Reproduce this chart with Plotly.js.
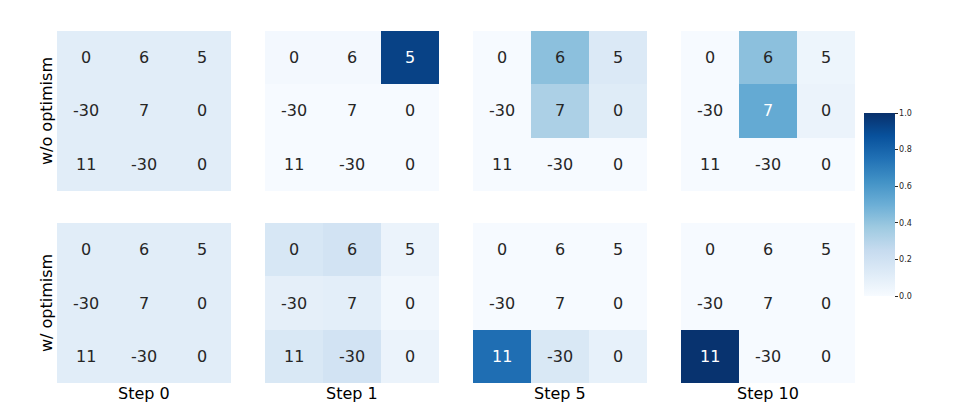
<!DOCTYPE html>
<html>
<head>
<meta charset="utf-8">
<script src="https://cdn.plot.ly/plotly-3.0.1.min.js"></script>
<style>
  html, body { margin: 0; padding: 0; background: #fff; }
  #chart { width: 957px; height: 410px; }
</style>
</head>
<body>
<div id="chart"></div>
<script>
// payoff matrix shown in every cell
const payoffs = [
    ["0", "6", "5"],
    ["-30", "7", "0"],
    ["11", "-30", "0"]
]
const stepLabels = ["Step 0", "Step 1", "Step 5", "Step 10"]
const rowLabels = ["w/o optimism", "w/ optimism"]

// joint action probabilities
const noOptStep0 = [[0.11, 0.11, 0.11], [0.11, 0.11, 0.11], [0.11, 0.11, 0.11]]
const noOptStep1 = [[0.02, 0.02, 0.93], [0.005, 0.005, 0.005], [0.005, 0.005, 0.005]]
const noOptStep5 = [[0.005, 0.42, 0.14], [0.005, 0.33, 0.12], [0.005, 0.005, 0.005]]
const noOptStep10 = [[0.005, 0.42, 0.05], [0.005, 0.52, 0.06], [0.005, 0.005, 0.005]]

const optStep0 = [[0.11, 0.11, 0.11], [0.11, 0.11, 0.11], [0.11, 0.11, 0.11]]
const optStep1 = [[0.16, 0.19, 0.06], [0.09, 0.1, 0.03], [0.15, 0.19, 0.06]]
const optStep5 = [[0.005, 0.005, 0.005], [0.005, 0.005, 0.005], [0.76, 0.15, 0.08]]
const optStep10 = [[0.005, 0.005, 0.005], [0.005, 0.005, 0.005], [0.99, 0.005, 0.005]]

const grid = [
    [noOptStep0, noOptStep1, noOptStep5, noOptStep10],
    [optStep0, optStep1, optStep5, optStep10]
]

// matplotlib "Blues"
const blues = [
    [0, "#f7fbff"], [0.125, "#deebf7"], [0.25, "#c6dbef"], [0.375, "#9ecae1"],
    [0.5, "#6baed6"], [0.625, "#4292c6"], [0.75, "#2171b5"], [0.875, "#08519c"], [1, "#08306b"]
]

const W = 957, H = 410
const colX = [[57, 231], [265, 439], [473, 647], [681, 855]]
const rowY = [[31, 191], [223, 383]]

const data = []
const layout = {
    width: W,
    height: H,
    margin: { l: 0, r: 0, t: 0, b: 0 },
    paper_bgcolor: "#fff",
    plot_bgcolor: "#fff",
    showlegend: false,
    font: { family: "DejaVu Sans", color: "#262626" },
    annotations: []
}

let n = 0
for (let r = 0; r < 2; r++) {
    for (let c = 0; c < 4; c++) {
        n++
        const xa = n === 1 ? "x" : "x" + n
        const ya = n === 1 ? "y" : "y" + n
        const z = grid[r][c]
        data.push({
            type: "heatmap",
            z: z,
            x: [0, 1, 2],
            y: [0, 1, 2],
            xaxis: xa,
            yaxis: ya,
            zmin: 0,
            zmax: 1,
            colorscale: blues,
            showscale: n === 1,
            hoverinfo: "skip",
            colorbar: {
                x: 864 / W,
                xanchor: "left",
                y: 1 - 296 / H,
                yanchor: "bottom",
                len: (296 - 113) / H,
                lenmode: "fraction",
                thickness: 31,
                thicknessmode: "pixels",
                outlinewidth: 0,
                ticks: "outside",
                ticklen: 3,
                tickwidth: 1,
                tickcolor: "#262626",
                tickvals: [0, 0.2, 0.4, 0.6, 0.8, 1.0],
                ticktext: ["0.0", "0.2", "0.4", "0.6", "0.8", "1.0"],
                tickfont: { size: 8, family: "DejaVu Sans", color: "#262626" },
                xpad: 0,
                ypad: 0
            }
        })
        const axKey = n === 1 ? "xaxis" : "xaxis" + n
        const ayKey = n === 1 ? "yaxis" : "yaxis" + n
        layout[axKey] = {
            domain: [colX[c][0] / W, colX[c][1] / W],
            range: [-0.5, 2.5],
            visible: false,
            fixedrange: true,
            anchor: ya
        }
        layout[ayKey] = {
            domain: [1 - rowY[r][1] / H, 1 - rowY[r][0] / H],
            range: [2.5, -0.5],
            visible: false,
            fixedrange: true,
            anchor: xa
        }
        for (let i = 0; i < 3; i++) {
            for (let j = 0; j < 3; j++) {
                layout.annotations.push({
                    x: j,
                    y: i,
                    xref: xa,
                    yref: ya,
                    text: payoffs[i][j],
                    showarrow: false,
                    font: { size: 16, family: "DejaVu Sans", color: z[i][j] > 0.5 ? "#ffffff" : "#262626" }
                })
            }
        }
    }
}

stepLabels.forEach((s, c) => {
    layout.annotations.push({
        x: (colX[c][0] + colX[c][1]) / 2 / W,
        y: 1 - 393 / H,
        xref: "paper",
        yref: "paper",
        xanchor: "center",
        yanchor: "middle",
        text: s,
        showarrow: false,
        font: { size: 16, family: "DejaVu Sans", color: "#000" }
    })
})

rowLabels.forEach((s, r) => {
    layout.annotations.push({
        x: 46 / W,
        y: 1 - (rowY[r][0] + rowY[r][1]) / 2 / H,
        xref: "paper",
        yref: "paper",
        xanchor: "center",
        yanchor: "middle",
        text: s,
        textangle: -90,
        showarrow: false,
        font: { size: 16, family: "DejaVu Sans", color: "#000" }
    })
})

Plotly.newPlot("chart", data, layout, { displayModeBar: false, staticPlot: true })
</script>
</body>
</html>
